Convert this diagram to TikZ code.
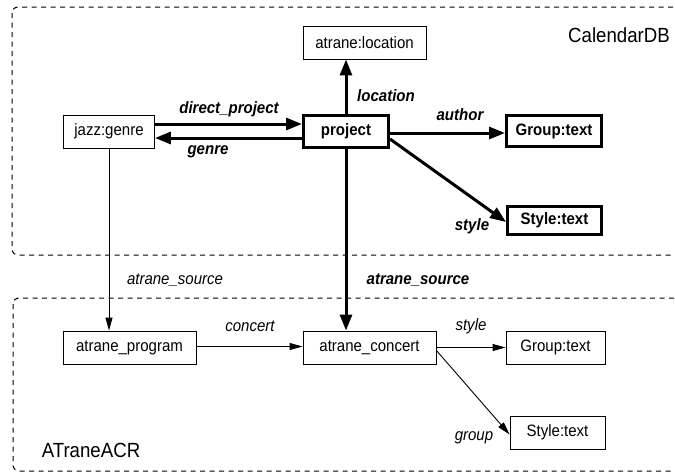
\documentclass[tikz,border=0pt]{standalone}
\usepackage{fontspec}
\setmainfont[FakeStretch=0.91]{Liberation Sans}
\usetikzlibrary{arrows.meta,calc}

\tikzset{
  box/.style={draw, line width=0.9pt, inner sep=0pt, font=\fontsize{16.5}{18}\selectfont},
  boldbox/.style={draw, line width=3pt, inner sep=0pt, font=\fontsize{16.5}{18}\selectfont\bfseries},
  heavy/.style={line width=3pt, -{Triangle[length=16pt,width=12pt]}},
  light/.style={line width=0.9pt, -{Triangle[length=13pt,width=7pt]}},
  boldlbl/.style={inner sep=0pt, font=\fontsize{16.5}{18}\selectfont\bfseries\itshape},
  lbl/.style={inner sep=0pt, font=\fontsize{16.5}{18}\selectfont\itshape},
  frame/.style={draw=black, line width=1pt, dash pattern=on 5pt off 4.5pt, rounded corners=6pt},
  title/.style={inner sep=0pt, font=\fontsize{20.5}{23}\selectfont},
}

\begin{document}
\begin{tikzpicture}[x=1pt, y=-1pt]
\useasboundingbox (0,0) rectangle (675,474);
\clip (0,0) rectangle (675,474);
\fill[white] (0,0) rectangle (675,474);

% database regions
\draw[frame] (12,7) rectangle (700,255);
\draw[frame] (13,298) rectangle (700,471);
\node[title] (caldb) at (619,35) {CalendarDB};
\node[title] (acr) at (91,450) {ATraneACR};

% CalendarDB nodes
\node[box, minimum width=123pt, minimum height=33pt] (loc) at (364.5,42.5) {atrane:location};
\node[box, minimum width=91pt, minimum height=33pt] (jg) at (109,131.5) {jazz:genre};
\node[boldbox, minimum width=85pt, minimum height=32pt] (proj) at (346,131.5) {project};
\node[boldbox, minimum width=95pt, minimum height=31pt] (gt) at (554,131) {Group:text};
\node[boldbox, minimum width=94pt, minimum height=28pt] (st) at (554.5,220.5) {Style:text};

% ATraneACR nodes
\node[box, minimum width=133pt, minimum height=33pt] (ap) at (129.5,347.5) {atrane\_program};
\node[box, minimum width=133pt, minimum height=33pt] (ac) at (369.5,347.5) {atrane\_concert};
\node[box, minimum width=99pt, minimum height=33pt] (gl) at (555.5,347.5) {Group:text};
\node[box, minimum width=95pt, minimum height=33pt] (sl) at (557.5,432.5) {Style:text};

% CalendarDB connectors
\draw[heavy] ([yshift=7.5pt]jg.east) -- ([yshift=7.5pt]jg.east -| proj.west);
\draw[heavy] ([yshift=-6.5pt]proj.west) -- ([yshift=-6.5pt]proj.west -| jg.east);
\draw[heavy] (proj.north) -- (proj.north |- loc.south);
\draw[heavy] ([yshift=-1.5pt]proj.east) -- ([yshift=-1.5pt]proj.east -| gt.west);
\draw[heavy] ([yshift=-7.5pt]proj.east) -- ([yshift=-1.5pt]st.west);

% links between databases
\draw[heavy] (proj.south) -- (proj.south |- ac.north);
\draw[light] (jg.south) -- (jg.south |- ap.north);

% ATraneACR connectors
\draw[light] ([yshift=1pt]ap.east) -- ([yshift=1pt]ap.east -| ac.west);
\draw[light] (ac.east) -- (ac.east -| gl.west);
\draw[light] ([yshift=-3pt]ac.east) -- ([yshift=-2pt]sl.west);

% connector labels
\node[boldlbl] (l1) at (229,109) {direct\_project};
\node[boldlbl] (l2) at (208,152) {genre};
\node[boldlbl] (l3) at (386,96) {location};
\node[boldlbl] (l4) at (460,115) {author};
\node[boldlbl] (l5) at (472,226) {style};
\node[boldlbl] (l6) at (418,280) {atrane\_source};
\node[lbl] (l7) at (175,280) {atrane\_source};
\node[lbl] (l8) at (250,326) {concert};
\node[lbl] (l9) at (471,326) {style};
\node[lbl] (l10) at (474,438) {group};
\end{tikzpicture}
\end{document}
